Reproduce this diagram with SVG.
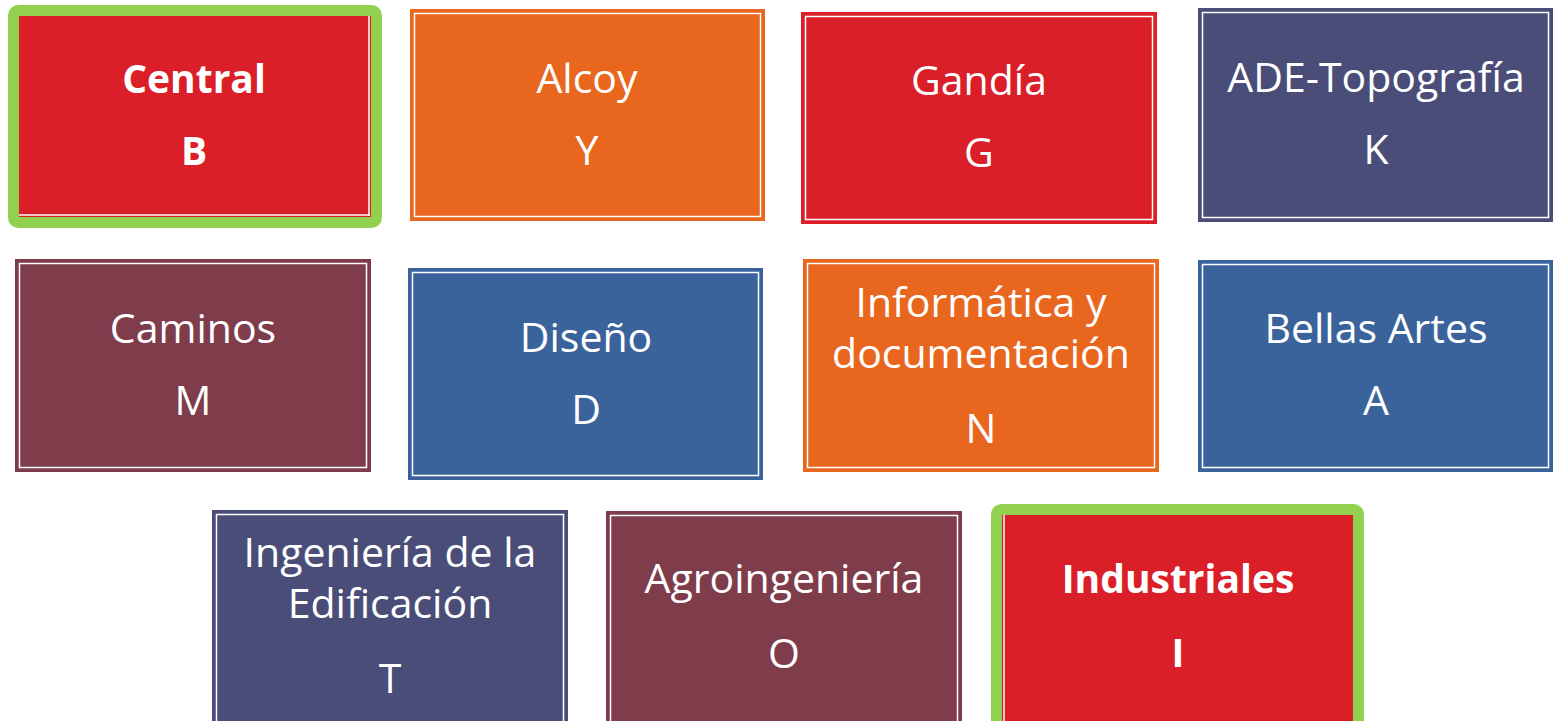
<svg xmlns="http://www.w3.org/2000/svg" width="1554" height="721" viewBox="0 0 1554 721">
<style>
text{font-family:"Open Sans","Liberation Sans",sans-serif;font-size:41px;fill:#ffffff;text-anchor:middle}
.b{font-weight:bold;font-size:39px}
.in{fill:none;stroke:#ffffff;stroke-width:1.5}
.red{fill:#DA1F28;stroke:#DA1F28;stroke-width:2}
.org{fill:#E9661F;stroke:#E9661F;stroke-width:2}
.nav{fill:#4A4D78;stroke:#4A4D78;stroke-width:2}
.mar{fill:#7F3C4B;stroke:#7F3C4B;stroke-width:2}
.blu{fill:#3A639C;stroke:#3A639C;stroke-width:2}
.grn{fill:none;stroke:#92D050;stroke-width:11}
</style>
<rect width="1554" height="721" fill="#ffffff"/>
<g id="connectors"></g>
<g id="central">
<rect class="red" x="19" y="16" width="351" height="200"/>
<line x1="369" y1="16" x2="369" y2="216" stroke="#fff" stroke-width="1.5"/>
<line x1="19" y1="215" x2="370" y2="215" stroke="#fff" stroke-width="1.5"/>
<rect class="grn" x="13.5" y="10.5" width="363" height="212" rx="5"/>
<text class="b" x="194" y="93">Central</text>
<text class="b" x="194" y="165">B</text>
</g>
<g id="alcoy">
<rect class="org" x="411" y="10" width="353" height="210"/>
<rect class="in" x="414.5" y="13.5" width="346" height="203"/>
<text x="587" y="93">Alcoy</text>
<text x="587" y="165">Y</text>
</g>
<g id="gandia">
<rect class="red" x="802" y="13" width="354" height="210"/>
<rect class="in" x="805.5" y="16.5" width="347" height="203"/>
<text x="979" y="95">Gandía</text>
<text x="979" y="167">G</text>
</g>
<g id="ade">
<rect class="nav" x="1199" y="9" width="353" height="212"/>
<rect class="in" x="1202.5" y="12.5" width="346" height="205"/>
<text x="1376" y="92">ADE-Topografía</text>
<text x="1376" y="164">K</text>
</g>
<g id="caminos">
<rect class="mar" x="16" y="260" width="354" height="211"/>
<rect class="in" x="19.5" y="263.5" width="347" height="204"/>
<text x="193" y="343">Caminos</text>
<text x="193" y="415">M</text>
</g>
<g id="diseno">
<rect class="blu" x="409" y="269" width="353" height="210"/>
<rect class="in" x="412.5" y="272.5" width="346" height="203"/>
<text x="586" y="352">Diseño</text>
<text x="586" y="424">D</text>
</g>
<g id="informatica">
<rect class="org" x="804" y="260" width="354" height="211"/>
<rect class="in" x="807.5" y="263.5" width="347" height="204"/>
<text x="981" y="317">Informática y</text>
<text x="981" y="368">documentación</text>
<text x="981" y="443">N</text>
</g>
<g id="bellas">
<rect class="blu" x="1199" y="261" width="353" height="210"/>
<rect class="in" x="1202.5" y="264.5" width="346" height="203"/>
<text x="1376" y="343">Bellas Artes</text>
<text x="1376" y="415">A</text>
</g>
<g id="edificacion">
<rect class="nav" x="213" y="511" width="354" height="215"/>
<rect class="in" x="216.5" y="514.5" width="347" height="215"/>
<text x="390" y="567">Ingeniería de la</text>
<text x="390" y="618">Edificación</text>
<text x="390" y="693">T</text>
</g>
<g id="agro">
<rect class="mar" x="607" y="512" width="354" height="215"/>
<rect class="in" x="610.5" y="515.5" width="347" height="215"/>
<text x="784" y="593">Agroingeniería</text>
<text x="784" y="668">O</text>
</g>
<g id="industriales">
<rect class="red" x="1003" y="515" width="351" height="215"/>
<line x1="1004" y1="515" x2="1004" y2="721" stroke="#fff" stroke-width="1.5"/>
<rect class="grn" x="996.5" y="509.5" width="362" height="220" rx="5"/>
<text class="b" x="1178" y="593">Industriales</text>
<text class="b" x="1178" y="667">I</text>
</g>
</svg>
